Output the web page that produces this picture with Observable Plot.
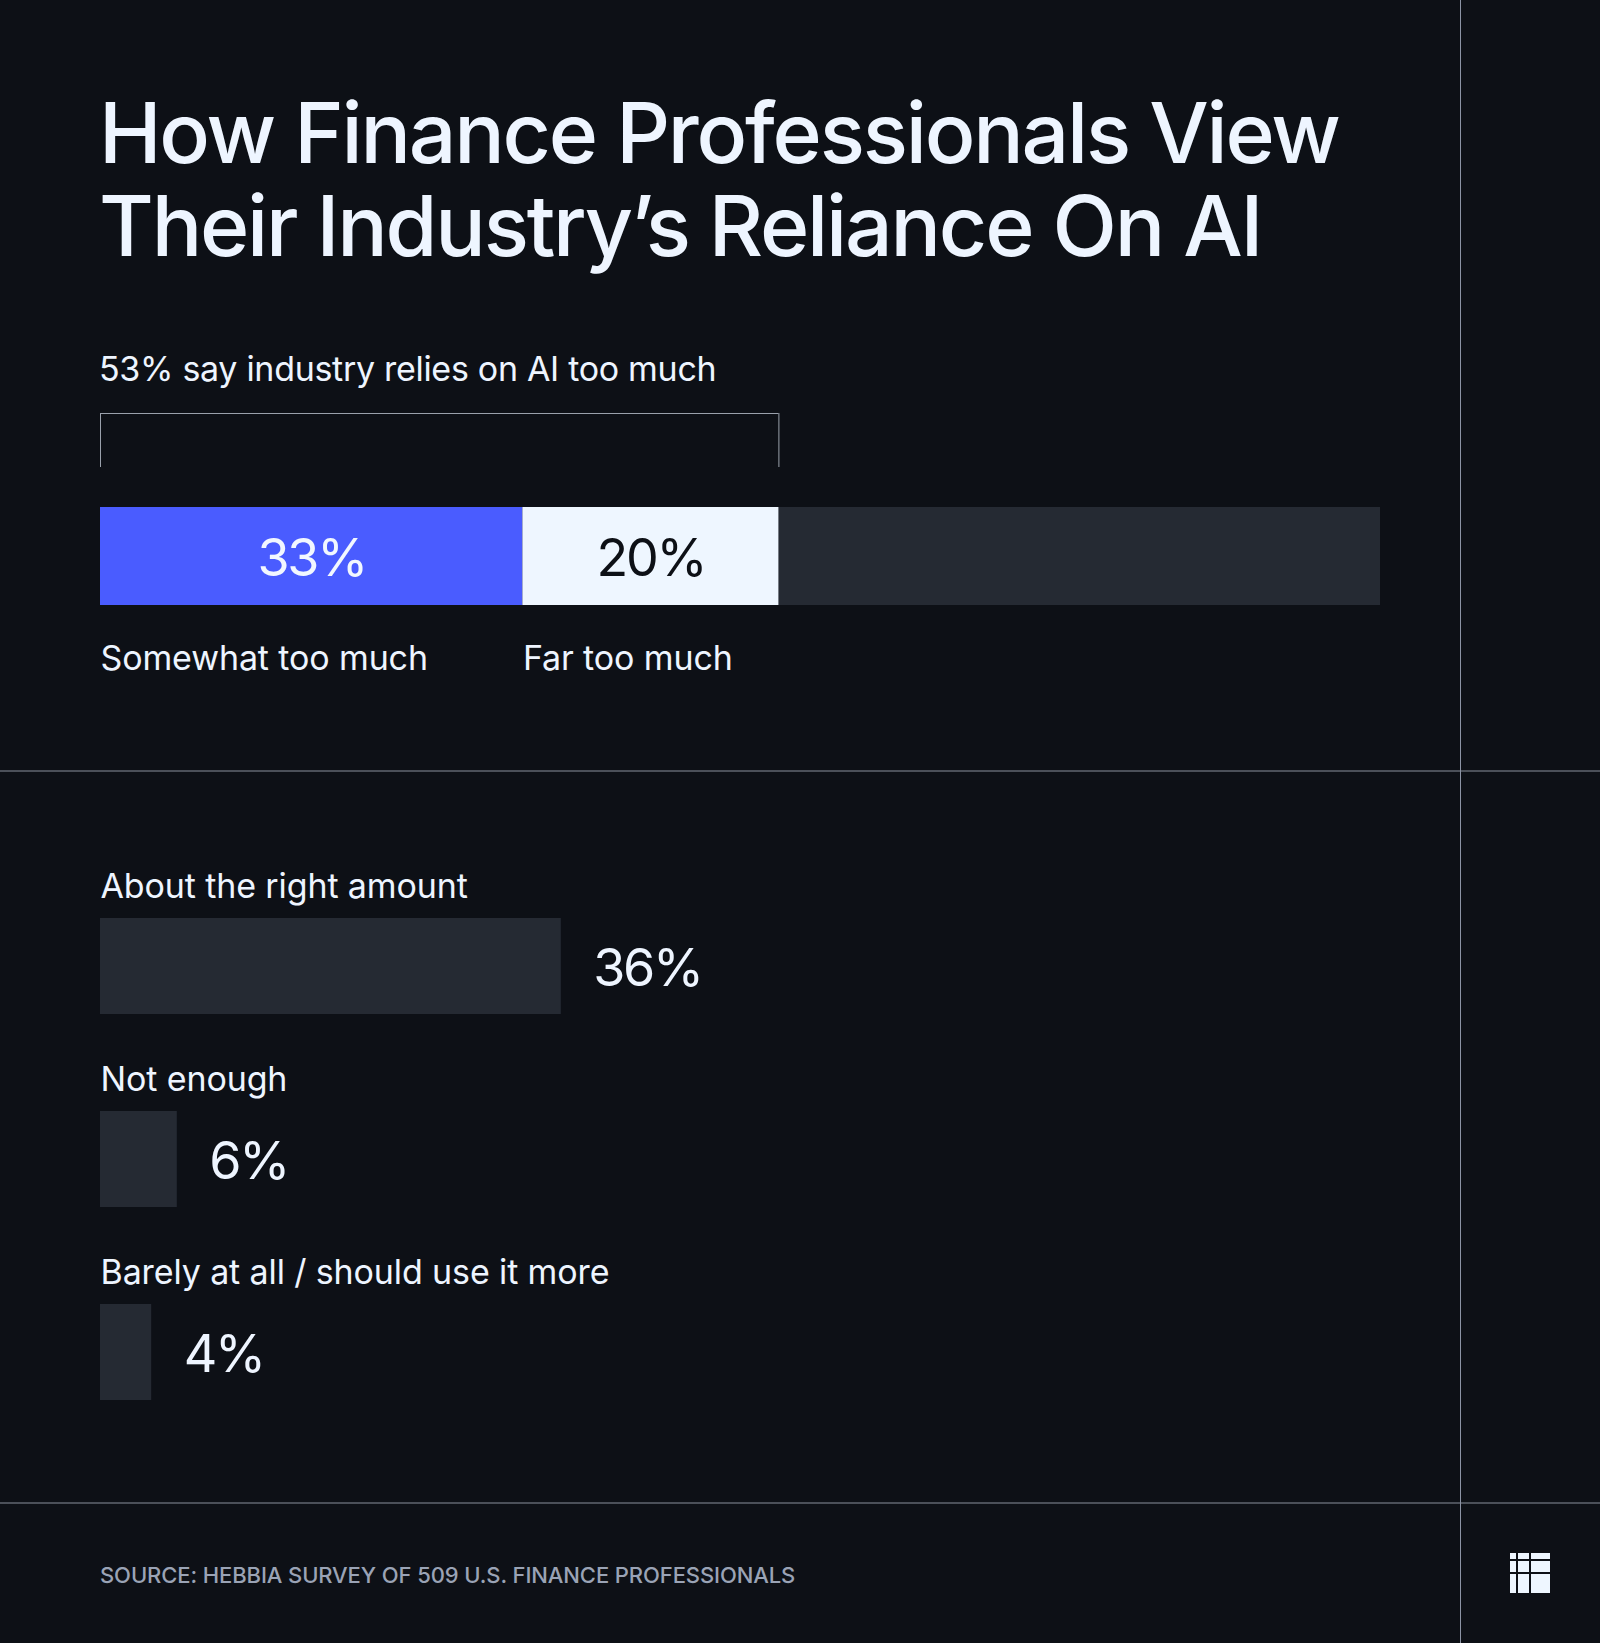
<!DOCTYPE html>
<html><head><meta charset="utf-8">
<script src="https://cdn.jsdelivr.net/npm/d3@7"></script>
<script src="https://cdn.jsdelivr.net/npm/@observablehq/plot@0.6"></script>
<style>
html,body{margin:0;padding:0;background:#0d1016;}
#root{position:relative;width:1600px;height:1643px;background:#0d1016;overflow:hidden;font-family:Inter,"Noto Sans",sans-serif;color:#eef5ff;}
.abs{position:absolute;}
#title{left:99px;top:86px;font-size:84px;line-height:93px;font-weight:500;letter-spacing:-2.2px;white-space:nowrap;color:#eef5ff;}
#subtitle{left:99px;top:349px;font-size:34px;line-height:40px;font-weight:400;white-space:nowrap;color:#eef5ff;letter-spacing:-0.3px;}
#source{left:100px;top:1562px;font-size:22px;line-height:26px;font-weight:500;white-space:nowrap;color:#9aa3b5;letter-spacing:-0.1px;}
.hline{left:0;width:1600px;height:2px;background:#4b5059;}
.vline{top:0;left:1460px;width:1px;height:1643px;background:#8c94a5;}
svg{overflow:visible;}
</style></head><body><div id="root"></div>
<script>
// ---- data ----
const titleLines = ["How Finance Professionals View", "Their Industry’s Reliance On AI"];
const subtitle = "53% say industry relies on AI too much";
const tooMuchCats = ["Somewhat too much", "Far too much"];
const tooMuchVals = [33, 20];
const otherCats = ["About the right amount", "Not enough", "Barely at all / should use it more"];
const otherVals = [36, 6, 4];
const total = 100;
const sourceText = "SOURCE: HEBBIA SURVEY OF 509 U.S. FINANCE PROFESSIONALS";

// ---- styles ----
const segColors = ["#4a5cff", "#eef6ff"];
const segTextColors = ["#f2f7ff", "#0d1016"];
const trackColor = "#252a33";
const textColor = "#eef5ff";
const font = "Inter, 'Noto Sans', sans-serif";
const numStyle = {fontSize: 52, fontWeight: 400, letterSpacing: "-2.3px"};
const labelSpacing = "-0.12px";

const root = document.getElementById("root");
function add(cls, id, html, style) {
  const d = document.createElement("div");
  d.className = "abs " + cls;
  if (id) d.id = id;
  if (html != null) d.innerHTML = html;
  if (style) Object.assign(d.style, style);
  root.appendChild(d);
  return d;
}

add("", "title", titleLines.join("<br>"));
add("", "subtitle", subtitle);
add("", "source", sourceText);
add("hline", null, null, {top: "770px"});
add("hline", null, null, {top: "1502px"});
add("vline", null, null);

// stacked segments
let acc = 0;
const segs = tooMuchCats.map((c, i) => {
  const s = {cat: c, value: tooMuchVals[i], x1: acc, x2: acc + tooMuchVals[i], i};
  acc += tooMuchVals[i];
  return s;
});
const tooMuchTotal = acc;

const common = {width: 1600, marginLeft: 100, marginRight: 220,
  style: {background: "transparent", overflow: "visible", fontFamily: font}};

// bracket
const bracket = Plot.plot({
  ...common, height: 56, marginTop: 1, marginBottom: 1,
  x: {domain: [0, total], axis: null},
  y: {domain: [0, 1], axis: null},
  marks: [
    Plot.ruleX([0, tooMuchTotal], {y1: 0, y2: 1, stroke: "#9aa1ac", strokeWidth: 1}),
    Plot.ruleY([1], {x1: 0, x2: tooMuchTotal, stroke: "#9aa1ac", strokeWidth: 1})
  ]
});
const bw = add("", null, null, {left: "0px", top: "412px"});
bw.appendChild(bracket);

// stacked bar
const barPlot = Plot.plot({
  ...common, height: 178, marginTop: 0, marginBottom: 80,
  x: {domain: [0, total], axis: null},
  color: {domain: tooMuchCats, range: segColors},
  marks: [
    Plot.barX([total], {x: d => d, fill: trackColor}),
    Plot.barX(segs, {x1: "x1", x2: "x2", fill: "cat"}),
    ...segs.map((s, i) => Plot.text([s], {
      x: d => (d.x1 + d.x2) / 2, text: d => d.value + "%",
      frameAnchor: "middle", lineAnchor: "bottom", dy: 19,
      fontSize: numStyle.fontSize, fontWeight: numStyle.fontWeight, fill: segTextColors[i]
    })),
    Plot.text(segs, {x: "x1", text: "cat", textAnchor: "start", frameAnchor: "bottom",
      lineAnchor: "bottom", dy: 64, fontSize: 34, fill: textColor})
  ]
});
const bb = add("", null, null, {left: "0px", top: "507px"});
bb.appendChild(barPlot);

// other answers
const rows = otherCats.map((c, i) => ({cat: c, value: otherVals[i]}));
const otherPlot = Plot.plot({
  ...common, height: 612, marginTop: 88, marginBottom: 40,
  x: {domain: [0, total], axis: null},
  y: {domain: otherCats, axis: null, paddingInner: 0.505, paddingOuter: 0, align: 0},
  marks: [
    Plot.barX(rows, {x: "value", y: "cat", fill: trackColor}),
    Plot.text(rows, {x: 0, y: "cat", text: "cat", textAnchor: "start", lineAnchor: "bottom",
      dy: -69, fontSize: 34, fill: textColor}),
    Plot.text(rows, {x: "value", y: "cat", text: d => d.value + "%", textAnchor: "start",
      lineAnchor: "bottom", dx: 32, dy: 19, fontSize: numStyle.fontSize, fontWeight: numStyle.fontWeight,
      fill: textColor})
  ]
});
const ob = add("", null, null, {left: "0px", top: "830px"});
ob.appendChild(otherPlot);

document.querySelectorAll("svg text").forEach(t => {
  t.style.letterSpacing = /%$/.test(t.textContent) ? numStyle.letterSpacing : labelSpacing;
});

// logo
add("", null, `<svg width="40" height="40" viewBox="0 0 40 40">
<g fill="#eef6ff">
<rect x="0" y="0" width="6" height="6"/><rect x="8" y="0" width="11" height="6"/><rect x="21" y="0" width="19" height="6"/>
<rect x="0" y="8" width="6" height="11"/><rect x="8" y="8" width="11" height="11"/><rect x="21" y="8" width="19" height="11"/>
<rect x="0" y="21" width="6" height="19"/><rect x="8" y="21" width="11" height="19"/><rect x="21" y="21" width="19" height="19"/>
</g></svg>`, {left: "1510px", top: "1553px", lineHeight: "0"});
</script>
</body></html>
